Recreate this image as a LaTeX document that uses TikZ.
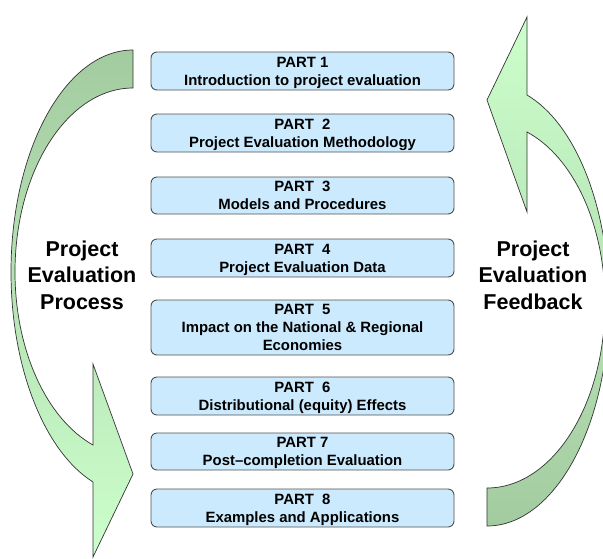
\documentclass[tikz,border=0pt]{standalone}
\usepackage{fontspec}
\setmainfont{Liberation Sans}
\definecolor{boxfill}{HTML}{CCEAFD}
\definecolor{boxline}{HTML}{505050}
\definecolor{arrowdark}{HTML}{A3CBA0}
\definecolor{arrowlight}{HTML}{CCFFCC}
\begin{document}
\begin{tikzpicture}[x=1pt,y=-1pt,
  partbox/.style={draw=boxline,line width=0.9pt,fill=boxfill,rounded corners=6pt,
    minimum width=303pt,inner sep=0pt,align=center,text depth=0pt,
    font=\bfseries\fontsize{14.9}{18}\selectfont},
  sidelabel/.style={align=center,inner sep=0pt,
    font=\bfseries\fontsize{21.5}{26.5}\selectfont},
  bigarrow/.style={draw=black!80,line width=0.7pt,line join=miter}]
\useasboundingbox (0,0) rectangle (603,558);
\clip (0,0) rectangle (603,558);

% curved arrow on the left: process, running top to bottom
\path[bigarrow,top color=arrowdark,bottom color=arrowlight]
  (133,50) .. controls (65.7,50) and (11,149.5) .. (11,272)
  .. controls (11,366.6) and (43.9,451) .. (93,482)
  -- (93,557) -- (133,474) -- (93,364) -- (93,445)
  .. controls (46.2,418.7) and (15,349.6) .. (15,272)
  .. controls (15,170.4) and (67.9,88) .. (133,88) -- cycle;

% curved arrow on the right: feedback, running bottom to top
\path[bigarrow,top color=arrowlight,bottom color=arrowdark]
  (487,526) .. controls (554.3,526) and (609,426.5) .. (609,303)
  .. controls (609,208.4) and (576.1,124) .. (527,95)
  -- (527,17) -- (487,100) -- (527,212) -- (527,132)
  .. controls (573.8,157.3) and (605,225.4) .. (605,303)
  .. controls (605,405.6) and (552.1,488) .. (487,488) -- cycle;

% the eight parts
\node[partbox,minimum height=38pt] (p1) at (302.5,71)    {PART 1\\Introduction to project evaluation};
\node[partbox,minimum height=38pt] (p2) at (302.5,133)   {PART\ \ 2\\Project Evaluation Methodology};
\node[partbox,minimum height=37pt] (p3) at (302.5,195.5) {PART\ \ 3\\Models and Procedures};
\node[partbox,minimum height=38pt] (p4) at (302.5,258)   {PART\ \ 4\\Project Evaluation Data};
\node[partbox,minimum height=55pt] (p5) at (302.5,327.5) {PART\ \ 5\\Impact on the National \& Regional\\Economies};
\node[partbox,minimum height=38pt] (p6) at (302.5,396)   {PART\ \ 6\\Distributional (equity) Effects};
\node[partbox,minimum height=37pt] (p7) at (302.5,451.5) {PART 7\\Post--completion Evaluation};
\node[partbox,minimum height=38pt] (p8) at (302.5,508)   {PART\ \ 8\\Examples and Applications};

% side captions
\node[sidelabel] (process)  at (82,275)  {Project\\Evaluation\\Process};
\node[sidelabel] (feedback) at (533,275) {Project\\Evaluation\\Feedback};
\end{tikzpicture}
\end{document}
